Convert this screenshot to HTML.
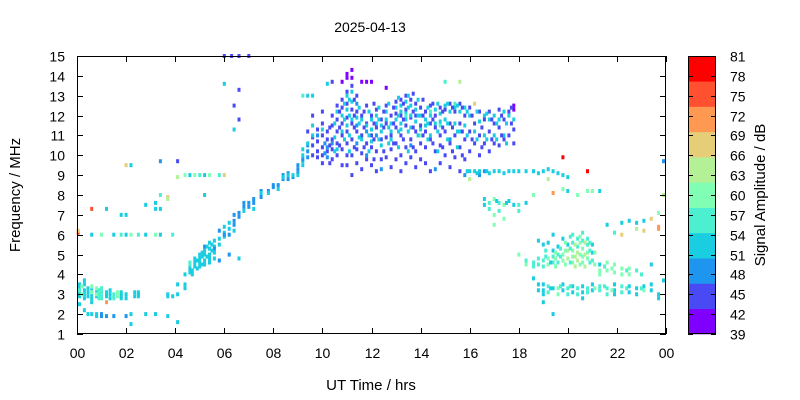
<!DOCTYPE html>
<html><head><meta charset="utf-8"><style>
body{margin:0;background:#fff;}
svg{display:block;font-family:"Liberation Sans",sans-serif;}
</style></head><body>
<svg id="chart" width="800" height="400" viewBox="0 0 800 400">
<rect width="800" height="400" fill="#fff"/>
<text x="370" y="32" font-size="14" text-anchor="middle">2025-04-13</text>
<g id="marks"></g>
<g id="axes"></g>
<text x="371" y="390" font-size="15" text-anchor="middle">UT Time / hrs</text>
<text transform="translate(20,195) rotate(-90)" font-size="15" text-anchor="middle">Frequency / MHz</text>
<g id="cbar"></g>
<text transform="translate(765,195) rotate(-90)" font-size="15" text-anchor="middle">Signal Amplitude / dB</text>
</svg>
<script>
const xTicks=[0,2,4,6,8,10,12,14,16,18,20,22,24];
const xTickLabels=["00","02","04","06","08","10","12","14","16","18","20","22","00"];
const yTicks=[1,2,3,4,5,6,7,8,9,10,11,12,13,14,15];
const cbTicks=[81,78,75,72,69,66,63,60,57,54,51,48,45,42,39];
const bandColors=["#8000ff","#4a4af5","#1e96f0","#1acde0","#4cf0d0","#80ffb4","#b4f096","#e6cd78","#ff9850","#ff5030","#ff0000"];
// observations: [UT hour, amplitude dB, [frequencies MHz]]
const obs=[
[0.1,52,[3.5,3.3,3.1,2.9,2.5]],[0.1,56,[3.2]],[0.05,75,[6.1]],[0.05,67,[6.2]],
[0.3,52,[3.7,3.5,3.2,3.0,2.8,2.2]],
[0.6,52,[3.2,3.0,2.8,2.6,2.0,6.0]],[0.6,60,[3.4,3.1]],[0.6,75,[7.3]],
[0.8,52,[3.1,2.9,1.9,2.0]],[0.8,60,[3.3,3.0]],
[1.0,56,[3.3,3.1,2.9,2.8]],[1.0,48,[2.0,1.9]],[1.0,60,[6.0]],
[1.2,52,[3.1,3.0,2.9,7.3]],[1.2,71,[2.6]],[1.2,48,[1.9]],
[1.5,56,[3.0,2.9,2.8]],[1.5,48,[1.9]],[1.5,52,[6.0]],
[1.8,52,[3.1,3.0,2.9,2.8,7.0]],[1.8,56,[6.0]],
[2.0,52,[3.0,2.8,7.0,6.0]],[2.0,48,[1.9]],[2.0,67,[9.5]],
[2.2,52,[2.0,1.5,9.5]],[2.2,60,[6.0]],
[2.5,52,[3.1,3.0,2.9]],[2.5,56,[6.0]],
[2.8,52,[2.0,7.5,6.0]],
[3.2,52,[2.0,7.6,7.3]],[3.2,60,[6.0]],
[3.4,52,[7.3,6.0]],[3.4,56,[8.0]],[3.4,48,[9.7]],
[3.7,52,[3.0,2.9,1.9]],[3.7,67,[7.9]],[3.7,64,[7.8]],
[3.9,52,[2.9]],[3.9,56,[6.0]],
[4.1,52,[3.5,3.0,1.6]],[4.1,44,[9.7]],[4.1,64,[8.9]],
[4.4,52,[4.0,3.5,3.3]],[4.4,60,[9.0]],
[4.6,52,[4.3,4.1,9.0]],[4.6,56,[4.6,4.5]],
[4.8,52,[4.8,4.6,4.4]],[4.8,60,[9.0]],
[5.0,52,[5.0,4.8,4.6,4.4]],[5.0,56,[9.0]],
[5.2,52,[5.2,5.0,4.7,4.5,9.0,8.0]],[5.2,48,[5.4]],
[5.4,52,[5.6,5.3,5.0,4.8,4.6]],[5.4,60,[9.0]],
[5.6,52,[5.7,5.4,5.1,4.8]],[5.6,48,[5.3]],
[5.8,52,[5.8,5.5]],[5.8,48,[6.2,4.7]],[5.8,56,[9.0]],
[6.0,52,[6.4,6.1,5.9,13.6]],[6.0,48,[6.0]],[6.0,67,[9.0]],[6.0,44,[15.0]],
[6.2,52,[6.3,6.6]],[6.2,48,[6.0,5.0]],[6.3,44,[15.0]],
[6.4,48,[7.0,6.7,6.5]],[6.4,52,[6.2,11.3]],[6.4,44,[12.5]],
[6.6,48,[7.1,6.9]],[6.6,52,[4.8]],[6.6,44,[11.8,13.3,15.0]],
[6.8,48,[7.6,7.4]],[6.8,52,[7.2]],
[7.0,48,[7.6,7.4]],[7.0,44,[15.0]],
[7.2,48,[7.8,7.6]],[7.2,52,[7.3]],
[7.5,48,[8.2,7.9]],[7.5,52,[8.1]],
[7.8,48,[8.2]],[7.8,52,[8.1]],
[8.0,48,[8.5,8.4]],
[8.2,48,[8.5]],[8.2,52,[8.3]],
[8.4,48,[9.0,8.8]],[8.4,52,[8.9]],
[8.6,48,[9.1,8.8]],[8.6,52,[9.0]],
[8.8,48,[8.9]],[8.8,52,[9.0]],
[9.0,48,[9.5,9.3,9.1]],[9.0,52,[9.0]],
[9.2,52,[10.3,10.0,9.7,9.5]],[9.2,48,[9.8]],[9.2,56,[13.0]],
[9.4,48,[10.5,10.2,9.9]],[9.4,52,[10.6,13.0]],[9.4,44,[11.2]],
[9.6,44,[10.9,10.5,10.0,12.0]],[9.6,52,[11.5,11.0,13.0]],
[9.8,44,[11.3,10.7,10.2,9.9]],[9.8,48,[11.0]],
[10.0,44,[11.6,11.0,10.4,10.0,9.6,12.2]],[10.0,52,[11.3]],
[10.2,44,[11.2,10.8,10.2]],[10.2,48,[10.4,9.9]],[10.2,52,[13.6]],
[10.4,44,[12.0,11.5,10.8,10.3,9.8,13.7]],[10.4,48,[10.6]],
[10.6,44,[12.5,11.8,11.2,10.6,10.0]],[10.6,52,[12.2,10.3]],
[10.8,44,[12.8,12.4,11.6,11.0,10.3,9.5]],[10.8,52,[12.0,11.2]],[10.8,40,[13.7]],
[11.0,44,[13.2,12.6,11.9,11.2,10.6,10.0,9.5]],[11.0,52,[13.0,12.3,11.5]],[11.0,40,[13.9,14.1]],
[11.2,44,[13.5,12.3,11.6,10.8,10.0,9.0]],[11.2,52,[13.2,12.7,11.8]],[11.2,40,[13.9,14.3]],
[11.4,44,[13.0,12.2,11.2,10.3,9.6]],[11.4,48,[12.6,11.5,10.6]],[11.4,52,[11.9]],
[11.6,44,[12.0,11.0,10.1,9.3]],[11.6,52,[11.8,10.8]],[11.6,40,[13.7]],
[11.8,44,[12.5,11.6,10.6,9.8]],[11.8,48,[11.2,10.0]],[11.8,52,[11.5]],[11.8,40,[13.7]],
[12.0,44,[12.0,11.0,10.4,9.5]],[12.0,52,[11.8,11.3,10.7]],[12.0,40,[13.7]],
[12.2,44,[12.3,11.4,10.2,9.2]],[12.2,48,[11.0]],[12.2,52,[12.0,11.6]],
[12.4,44,[11.8,10.8,9.8]],[12.4,52,[11.5,11.2,10.5]],[12.4,48,[9.3]],
[12.6,44,[12.5,11.6,10.9,9.9]],[12.6,52,[12.2,11.8]],[12.6,40,[13.4]],
[12.8,44,[12.0,11.0,10.3,9.4]],[12.8,52,[11.6,11.2,10.8]],
[13.0,44,[12.7,12.1,11.4,10.6,9.8]],[13.0,52,[12.4,11.8]],
[13.2,44,[12.8,12.0,11.0,10.0,9.2]],[13.2,52,[12.5,12.2,11.6,11.3]],
[13.4,44,[13.0,12.3,11.5,10.4,9.6]],[13.4,52,[12.7,12.1,11.8]],[13.4,56,[12.0]],
[13.6,44,[12.8,11.9,10.8,9.9]],[13.6,52,[12.5,12.0,11.4]],[13.6,48,[10.5]],
[13.8,44,[12.6,12.0,11.2,10.2,9.4]],[13.8,52,[12.3,11.7]],
[14.0,44,[12.4,11.5,10.6,9.8]],[14.0,52,[12.0,11.3]],[14.0,60,[11.0]],
[14.2,44,[12.2,11.2,10.4,9.6]],[14.2,52,[11.8,11.5]],
[14.4,44,[12.5,11.6,10.8,9.2]],[14.4,52,[12.0,11.0]],[14.4,56,[12.2]],
[14.6,44,[12.0,11.4,10.2]],[14.6,52,[12.3,11.6]],[14.6,48,[9.3]],
[14.8,44,[12.4,11.0,10.5,9.6]],[14.8,52,[12.1,11.7]],[14.8,56,[11.5]],
[15.0,44,[12.3,11.2,10.0]],[15.0,52,[12.5,11.8]],[15.0,56,[13.7]],
[15.2,44,[12.6,11.6,10.6,9.4]],[15.2,52,[12.2]],[15.2,48,[10.8]],
[15.4,44,[12.2,11.0,9.9]],[15.4,52,[12.4,11.6]],[15.4,56,[12.6]],
[15.6,44,[12.6,11.6,10.4,9.2]],[15.6,52,[12.2,11.2]],[15.6,64,[13.7]],
[15.8,44,[12.0,10.8,9.8]],[15.8,52,[12.4,11.5]],[15.8,48,[9.0]],
[16.0,44,[12.4,11.2,10.2]],[16.0,52,[12.0,9.2]],[16.0,64,[8.8]],
[16.2,44,[11.6,10.6]],[16.2,52,[11.2,9.2]],[16.2,67,[12.6]],
[16.4,44,[12.2,11.0,10.0]],[16.4,52,[11.7,9.2]],[16.4,48,[9.0]],
[16.6,44,[11.8,10.6]],[16.6,52,[12.0,11.0,7.8,7.5]],[16.6,48,[9.2]],
[16.8,44,[12.2,11.2,10.2]],[16.8,52,[11.8,9.1]],[16.8,56,[7.6,7.3]],
[17.0,44,[11.6,10.6]],[17.0,52,[12.0,11.0,9.2]],[17.0,60,[7.8,7.0,6.5]],
[17.2,44,[12.3,11.4,10.5]],[17.2,52,[11.8,9.2]],[17.2,56,[7.6,7.2]],
[17.4,44,[11.8,10.8]],[17.4,52,[12.2,11.0,9.1]],[17.4,60,[7.5,6.8]],
[17.6,44,[12.2,11.0]],[17.6,52,[12.0,9.2,7.7]],
[17.8,40,[12.5,12.3]],[17.8,44,[11.3,10.6]],[17.8,52,[11.8,9.2,7.5]],
[18.0,52,[9.2]],[18.0,56,[7.5,7.2]],[18.0,60,[5.0]],
[18.3,52,[9.2,7.6]],[18.3,56,[4.7]],[18.3,60,[4.5]],
[18.6,52,[9.2,3.8]],[18.6,56,[4.6,4.4]],[18.6,60,[8.0]],
[18.8,52,[9.1,5.7,3.5,3.2]],[18.8,56,[4.8,4.5]],
[19.0,52,[9.2,5.5,3.5,3.2,3.0,2.6]],[19.0,56,[4.7,4.4]],
[19.2,52,[9.3,5.6]],[19.2,60,[4.8,4.5]],[19.2,56,[3.4,3.1]],[19.2,64,[8.8]],
[19.4,52,[9.2,6.0,5.2,3.3,2.0]],[19.4,56,[4.9,4.6]],[19.4,71,[8.1]],
[19.6,52,[9.1,5.4]],[19.6,56,[5.0,4.6]],[19.6,60,[3.3,3.0]],
[19.8,52,[9.0,5.8,3.5,3.2]],[19.8,60,[5.0,4.7,8.3]],[19.8,79,[9.9]],
[20.0,52,[8.9,5.5,8.2]],[20.0,64,[5.2,4.8]],[20.0,56,[3.3,3.0]],
[20.2,56,[6.0,5.6]],[20.2,60,[5.2,4.9,4.6]],[20.2,52,[3.4,3.1]],
[20.4,56,[5.8,5.4,3.3,3.0]],[20.4,64,[5.1,4.7]],[20.4,60,[8.0]],
[20.6,56,[6.1,5.7]],[20.6,60,[5.3,4.9,4.6]],[20.6,52,[3.4,3.1,2.8]],
[20.8,56,[5.8,5.5,3.3,3.1]],[20.8,60,[5.1,4.8,8.2]],[20.8,79,[9.2]],
[21.0,52,[5.5,5.1,3.5,3.2]],[21.0,56,[4.7]],[21.0,60,[8.2]],
[21.3,52,[4.5,8.2]],[21.3,60,[4.2,4.0]],[21.3,56,[3.4,3.2]],
[21.6,60,[4.6,4.2]],[21.6,56,[3.3,3.0]],[21.6,52,[6.5]],
[21.9,60,[4.5,4.1]],[21.9,52,[3.5,3.2,3.0]],[21.9,56,[6.1]],
[22.2,60,[4.3,4.0]],[22.2,56,[3.4,3.1]],[22.2,67,[6.0]],[22.2,52,[6.6]],
[22.5,60,[4.3,4.0]],[22.5,52,[3.4,3.1,6.7]],
[22.8,56,[4.2]],[22.8,52,[3.3,3.0,6.6]],[22.8,64,[6.3]],
[23.1,52,[3.4,6.7]],[23.1,60,[3.2]],[23.1,67,[6.2]],
[23.4,52,[4.5,3.5,3.2]],[23.4,67,[6.8]],
[23.7,52,[3.0,2.8]],[23.7,71,[6.4,6.3]],[23.7,60,[7.1]],
[23.9,48,[9.7]],[23.9,52,[3.7]],[23.9,64,[8.0]]
];
// additional dense-region observations
const obsExtra=[
[0.2,60,[3.4,3.0]],[0.45,52,[3.3,3.1,2.9,2.0]],[0.9,56,[3.2,3.0,2.8]],[1.35,52,[3.2,3.0,2.8]],[1.65,60,[3.1,2.9]],
[2.35,52,[3.1,2.9]],[4.7,52,[4.2,4.0]],[4.9,52,[4.7,4.3]],[5.1,52,[5.1,4.9,4.5]],[5.3,52,[5.4,4.9]],[5.5,52,[5.5,5.2]],
[10.1,48,[10.6,10.1]],[10.3,44,[11.4,10.5,9.6]],[10.5,52,[11.6,10.9,10.2]],[10.7,44,[12.2,11.4,10.5]],[10.9,52,[12.6,11.8,10.8]],
[11.1,52,[12.8,12.0,11.0,10.2]],[11.3,44,[12.8,12.0,11.4,10.4]],[11.5,52,[12.4,11.6,10.9]],[11.7,44,[12.2,11.4,10.4]],
[11.9,52,[12.2,11.0,10.2]],[12.1,44,[12.6,11.6,10.8,9.8]],[12.3,52,[12.4,11.8,10.8]],[12.5,44,[12.2,11.4,10.2]],
[12.7,52,[12.6,11.4,10.6]],[12.9,44,[12.4,11.6,10.6]],[13.1,52,[12.9,12.0,11.2,10.4]],[13.3,44,[12.6,11.8,10.8]],
[13.5,52,[13.0,12.4,11.2,10.2]],[13.7,44,[13.1,12.2,11.4,10.4]],[13.9,52,[12.8,12.0,11.0]],[14.1,44,[12.8,12.0,11.0]],
[14.3,52,[12.4,11.6,10.8]],[14.5,44,[12.6,11.8,10.6]],[14.7,52,[12.6,11.2,10.2]],[14.9,44,[12.2,11.4,10.4]],
[15.1,52,[12.6,11.6,10.8]],[15.3,44,[12.4,11.4,10.2]],[15.5,52,[12.5,11.2,10.4]],[15.7,44,[12.4,11.2,10.0]],
[15.9,52,[12.2,11.0,9.2]],[16.1,44,[12.0,10.8]],[16.3,52,[12.2,10.8,9.1]],[16.5,44,[11.4,10.4]],[16.7,52,[12.1,10.8,9.2]],
[16.9,44,[11.8,10.8]],[17.1,52,[11.6,10.8,7.7]],[17.3,44,[12.0,11.0]],[17.5,52,[11.6,10.6,7.6]],[17.7,44,[12.4,11.6]],
[19.1,56,[5.2,4.9]],[19.3,52,[4.6,3.3]],[19.5,60,[5.1,4.8,4.4]],[19.7,56,[5.3,4.9,3.4]],[19.9,60,[5.6,5.2,4.5]],
[20.1,56,[5.9,5.3,4.6,3.4]],[20.3,64,[5.5,4.9,4.4]],[20.5,60,[5.9,5.6,5.0,4.5]],[20.7,64,[5.6,5.0,4.4]],
[20.9,56,[5.6,5.2,4.6]],[21.1,60,[5.1,4.5,3.3]],[21.5,56,[4.4,3.4]],[21.8,60,[4.3,3.2]],[22.4,56,[4.2,3.3]],[23.0,56,[4.0,3.3]]
];
const NS="http://www.w3.org/2000/svg";
const L=77,R=666,T=56,B=334;
const xS=t=>L+(t/24)*(R-L);
const yS=f=>B-((f-1)/14)*(B-T);
const cMin=39,cMax=81;
function colorFor(db){let i=Math.floor((db-cMin)/(cMax-cMin)*bandColors.length);i=Math.max(0,Math.min(bandColors.length-1,i));return bandColors[i];}
function mk(tag,attrs,parent){const e=document.createElementNS(NS,tag);for(const k in attrs)e.setAttribute(k,attrs[k]);parent.appendChild(e);return e;}
const marks=document.getElementById('marks');
obs.concat(obsExtra).forEach(o=>{o[2].forEach(f=>{
 const r=mk('rect',{x:(xS(o[0])-1.5).toFixed(1),y:(yS(f)-2).toFixed(1),width:3,height:4,fill:colorFor(o[1])},marks);
 
 
});});
const ax=document.getElementById('axes');
const fr=mk('rect',{x:L+0.5,y:T+0.5,width:R-L-1,height:B-T-1,fill:'none',stroke:'#000','stroke-width':1},ax);


xTicks.forEach((t,i)=>{
 const x=Math.round(xS(t))+0.5;
 mk('line',{x1:x,x2:x,y1:B,y2:B-6,stroke:'#000'},ax);
 mk('line',{x1:x,x2:x,y1:T,y2:T+6,stroke:'#000'},ax);
 const tx=mk('text',{x:x,y:B+24,'font-size':14,'text-anchor':'middle'},ax);
 tx.textContent=xTickLabels[i];
 
 
});
yTicks.forEach(f=>{
 const y=Math.round(yS(f))+0.5;
 mk('line',{x1:L,x2:L+6,y1:y,y2:y,stroke:'#000'},ax);
 mk('line',{x1:R,x2:R-6,y1:y,y2:y,stroke:'#000'},ax);
 const tx=mk('text',{x:L-12,y:y+5,'font-size':14,'text-anchor':'end'},ax);
 tx.textContent=f;
 
 
});
const cb=document.getElementById('cbar');
const CL=688,CR=716,bh=(B-T)/bandColors.length;
bandColors.forEach((c,i)=>{
 const r=mk('rect',{x:CL,y:(B-(i+1)*bh).toFixed(2),width:CR-CL,height:(bh+0.3).toFixed(2),fill:c},cb);
 
 
});
mk('rect',{x:CL+0.5,y:T+0.5,width:CR-CL-1,height:B-T-1,fill:'none',stroke:'#000'},cb);
cbTicks.forEach(v=>{
 const y=Math.round(B-(v-cMin)/(cMax-cMin)*(B-T))+0.5;
 mk('line',{x1:CL,x2:CL+5,y1:y,y2:y,stroke:'#000'},cb);
 mk('line',{x1:CR,x2:CR-5,y1:y,y2:y,stroke:'#000'},cb);
 const tx=mk('text',{x:730,y:y+5,'font-size':14},cb);
 tx.textContent=v;
 
 
});
</script>
</body></html>
